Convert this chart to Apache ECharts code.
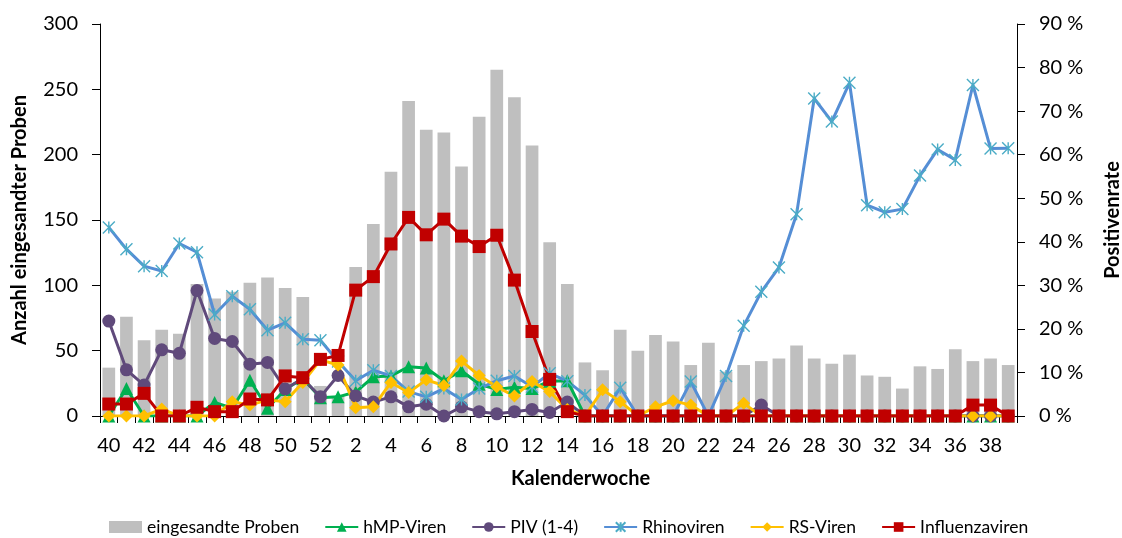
<!DOCTYPE html>
<html>
<head>
<meta charset="utf-8">
<script src="https://cdn.jsdelivr.net/npm/echarts@6/dist/echarts.min.js"></script>
<style>
html,body{margin:0;padding:0;background:#fff;}
#chart{width:1122px;height:538px;}
</style>
</head>
<body>
<div id="chart"></div>
<script>
const weeks = ['40','41','42','43','44','45','46','47','48','49','50','51','52',
  '1','2','3','4','5','6','7','8','9','10','11','12','13','14','15','16','17','18','19','20',
  '21','22','23','24','25','26','27','28','29','30','31','32','33','34','35','36','37','38','39'];

const proben = [37,76,58,66,63,101,90,95,102,106,98,91,23,
  15,114,147,187,241,219,217,191,229,265,244,207,133,101,
  41,35,66,50,62,57,39,56,34,39,42,44,54,44,40,47,31,30,21,38,36,51,42,44,39];

const hmp = [0,6.3,0,0,0,0,3.1,1.8,8.2,1.8,6.1,8.6,4.2,
  4.4,5.5,9.0,9.2,11.3,11.0,8.1,10.4,7.3,6.1,6.6,6.3,8.0,8.1,
  0,0,0,0,0,0,0,0,0,0,0,0,0,0,0,0,0,0,0,0,0,0,0,0,0];

const piv = [21.8,10.6,7.1,15.2,14.4,28.8,17.8,17.1,11.9,12.3,6.2,8.6,4.4,
  9.3,4.6,3.2,4.4,2.1,2.7,0,2.1,1.0,0.5,1.0,1.5,0.8,3.2,
  0,0,0,0,0,0,0,0,0,0,2.5,0,0,0,0,0,0,0,0,0,0,0,0,0,0];

const rhino = [43.3,38.3,34.4,33.3,39.6,37.6,23.3,27.5,24.5,19.7,21.4,17.6,17.4,
  12.5,8.1,10.5,9.2,5.6,4.4,6.3,3.8,6.3,8.1,9.2,6.7,9.8,8.0,
  4.8,0,6.5,0,0,0,7.9,0,9.2,20.7,28.5,34.1,46.3,72.9,67.6,76.5,48.4,46.8,47.5,55.2,61.2,58.8,76.0,61.4,61.5];

const rsv = [0,0,0,1.6,0,0,0,3.3,2.5,3.7,3.3,7.7,12.9,
  11.7,1.9,2.1,7.7,5.4,8.3,7.0,12.6,9.3,6.7,4.6,7.9,5.6,1.5,
  0,6.0,3.3,0,2.1,3.5,2.5,0,0,2.9,0,0,0,0,0,0,0,0,0,0,0,0,0,0,0];

const influenza = [2.75,2.75,5.2,0,0,2.0,1.0,1.0,3.9,3.7,9.2,8.8,13.0,
  13.9,28.9,32.0,39.5,45.6,41.6,45.2,41.3,38.9,41.5,31.2,19.4,8.4,1.0,
  0,0,0,0,0,0,0,0,0,0,0,0,0,0,0,0,0,0,0,0,0,0,2.5,2.5,0];

const leftTicks = {min:0, max:300, interval:50};
const rightTicks = {min:0, max:90, interval:10};

const FONT = 'Lato';
const chart = echarts.init(document.getElementById('chart'), null, {renderer:'canvas'});

function lineSeries(name, data, color, symbol, size, extra) {
  return Object.assign({
    name: name, type: 'line', yAxisIndex: 1, data: data,
    symbol: symbol, symbolSize: size, showAllSymbol: true,
    lineStyle: {color: color, width: 3},
    itemStyle: {color: color},
    emphasis: {disabled: true},
    animation: false
  }, extra || {});
}

const option = {
  animation: false,
  textStyle: {fontFamily: FONT},
  grid: {left: 100, right: 105, top: 24, bottom: 122, containLabel: false, outerBoundsMode: 'none'},
  legend: {
    left: 104, top: 513,
    itemWidth: 33, itemHeight: 12, itemGap: 25,
    textStyle: {fontFamily: FONT, fontSize: 17.5, color: '#000'},
    data: [
      {name: 'eingesandte Proben', icon: 'rect'},
      'hMP-Viren', 'PIV (1-4)', 'Rhinoviren', 'RS-Viren', 'Influenzaviren'
    ]
  },
  xAxis: {
    type: 'category', data: weeks, boundaryGap: true,
    name: 'Kalenderwoche', nameLocation: 'middle', nameGap: 53,
    nameTextStyle: {fontFamily: FONT, fontSize: 20, fontWeight: 'bold', color: '#000', padding: [0,0,0,44]},
    axisLine: {lineStyle: {color: '#000', width: 1}},
    axisTick: {show: true, interval: 0, alignWithLabel: false, length: 7, lineStyle: {color: '#000'}},
    axisLabel: {interval: 1, fontFamily: FONT, fontSize: 20, color: '#000', margin: 20}
  },
  yAxis: [
    {
      type: 'value', min: leftTicks.min, max: leftTicks.max, interval: leftTicks.interval,
      name: 'Anzahl eingesandter Proben', nameLocation: 'middle', nameGap: 70, nameRotate: 90,
      nameTextStyle: {fontFamily: FONT, fontSize: 20, fontWeight: 'bold', color: '#000'},
      axisLine: {show: true, lineStyle: {color: '#000'}},
      axisTick: {show: true, length: 8, lineStyle: {color: '#000'}},
      splitLine: {show: false},
      axisLabel: {fontFamily: FONT, fontSize: 20, color: '#000', margin: 22}
    },
    {
      type: 'value', min: rightTicks.min, max: rightTicks.max, interval: rightTicks.interval,
      position: 'right',
      name: 'Positivenrate', nameLocation: 'middle', nameGap: 86, nameRotate: 90,
      nameTextStyle: {fontFamily: FONT, fontSize: 20, fontWeight: 'bold', color: '#000'},
      axisLine: {show: true, lineStyle: {color: '#000'}},
      axisTick: {show: true, length: 8, lineStyle: {color: '#000'}},
      splitLine: {show: false},
      axisLabel: {fontFamily: FONT, fontSize: 20, color: '#000', margin: 22, formatter: '{value} %'}
    }
  ],
  series: [
    {
      name: 'eingesandte Proben', type: 'bar', yAxisIndex: 0, data: proben,
      barCategoryGap: '28%', itemStyle: {color: '#BFBFBF'}, emphasis: {disabled: true}
    },
    lineSeries('hMP-Viren', hmp, '#00B050', 'triangle', 13),
    lineSeries('PIV (1-4)', piv, '#604A7B', 'circle', 13),
    lineSeries('Rhinoviren', rhino, '#558ED5', 'path://M0,0L10,10M10,0L0,10M5,0L5,10', 12,
      {itemStyle: {color: '#4BACC6', borderColor: '#4BACC6', borderWidth: 1.4}, lineStyle: {color: '#558ED5', width: 3}}),
    lineSeries('RS-Viren', rsv, '#FFC000', 'diamond', 13),
    lineSeries('Influenzaviren', influenza, '#C00000', 'rect', 13)
  ]
};
chart.setOption(option);
</script>
</body>
</html>
